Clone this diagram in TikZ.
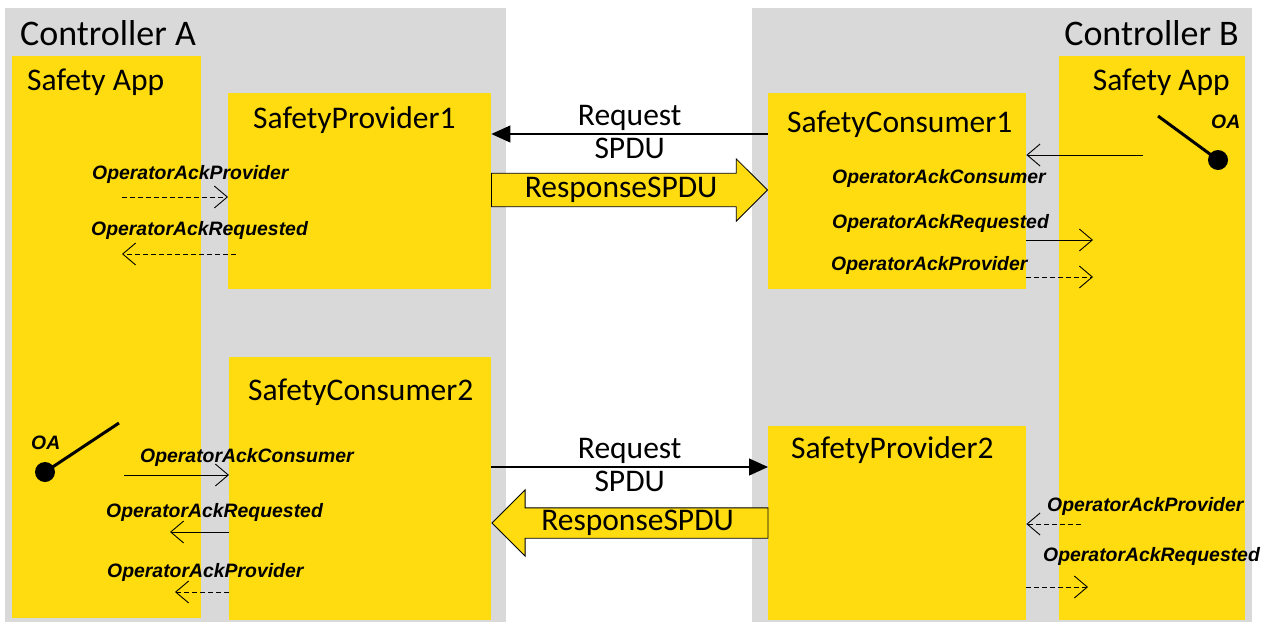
\documentclass[tikz,border=0pt]{standalone}
\usepackage{fontspec}
\setmainfont{Carlito}
\newfontfamily\labelfont{Liberation Sans}
\usetikzlibrary{arrows.meta,shapes.arrows}
\definecolor{safetyyellow}{RGB}{255,220,15}
\definecolor{ctrlgray}{RGB}{217,217,217}

\begin{document}
\begin{tikzpicture}[
    x=1pt, y=-1pt,
    area/.style={anchor=north west, inner sep=0},
    controller/.style={area, fill=ctrlgray},
    app/.style={area, fill=safetyyellow},
    component/.style={area, fill=safetyyellow},
    ctrltitle/.style={inner sep=0, font=\fontsize{36}{40}\selectfont},
    comptitle/.style={inner sep=0, anchor=base west, font=\fontsize{31.5}{36}\selectfont},
    signal/.style={inner sep=0, anchor=base west,
        font=\labelfont\bfseries\itshape\fontsize{19.4}{22}\selectfont},
    sig/.style={line width=0.9pt, -{Straight Barb[length=13pt,width=22pt]}},
    sigdash/.style={sig, dash pattern=on 5pt off 3pt},
    request/.style={line width=1.2pt, -{Triangle[length=19pt,width=17pt]}},
    reqlabel/.style={inner sep=3pt, font=\fontsize{31.5}{36}\selectfont},
    response/.style={single arrow, draw=black, line width=0.8pt, fill=safetyyellow,
        single arrow head indent=0pt, inner xsep=2pt,
        minimum height=276pt, font=\fontsize{31.5}{36}\selectfont},
    oadot/.style={circle, fill=black, inner sep=0, minimum size=20pt},
    switchbar/.style={line width=3pt},
]
\useasboundingbox (0,0) rectangle (1283,625);

%Controllers
\node[controller, minimum width=501pt, minimum height=614pt] (ctrlA) at (5,8) {};
\node[controller, minimum width=500pt, minimum height=614pt] (ctrlB) at (752,8) {};
\node[ctrltitle, anchor=base west] (ctrlAtitle) at (20,45) {Controller A};
\node[ctrltitle, anchor=base east] (ctrlBtitle) at (1239,45) {Controller B};

%Safety apps
\node[app, minimum width=189pt, minimum height=562pt] (appA) at (12,56) {};
\node[app, minimum width=186pt, minimum height=564pt] (appB) at (1059,56) {};
\node[comptitle] (appAtitle) at (27,90) {Safety App};
\node[comptitle, anchor=base east] (appBtitle) at (1230,90) {Safety App};

%Providers and consumers
\node[component, minimum width=263pt, minimum height=196pt] (sp1) at (228,93) {};
\node[component, minimum width=258pt, minimum height=196pt] (sc1) at (768,93) {};
\node[component, minimum width=262pt, minimum height=263pt] (sc2) at (229,357) {};
\node[component, minimum width=258pt, minimum height=194pt] (sp2) at (768,426) {};
\node[comptitle] (sp1title) at (253,128) {SafetyProvider1};
\node[comptitle] (sc1title) at (787,132) {SafetyConsumer1};
\node[comptitle] (sc2title) at (248,400) {SafetyConsumer2};
\node[comptitle] (sp2title) at (791,458) {SafetyProvider2};

%Top left signals
\node[signal] (sigA1) at (92,179) {OperatorAckProvider};
\node[signal] (sigA2) at (91,235) {OperatorAckRequested};
\coordinate (a1) at (122,197);
\coordinate (a2) at (122,254);
\coordinate (a2s) at (236,254);
\draw[sigdash] (a1) -- (a1 -| sp1.west);
\draw[sigdash] (a2s) -- (a2);

%Top right signals
\node[signal] (sigB1) at (832,183) {OperatorAckConsumer};
\node[signal] (sigB2) at (832,228) {OperatorAckRequested};
\node[signal] (sigB3) at (831,270) {OperatorAckProvider};
\node[signal] (oaBlabel) at (1211,128) {OA};
\node[oadot] (oaB) at (1218,160) {};
\coordinate (oaBend) at (1158,116);
\draw[switchbar] (oaB.center) -- (oaBend);
\coordinate (b1) at (1143,155);
\coordinate (b2) at (1093,240);
\coordinate (b3) at (1093,277);
\draw[sig] (b1) -- (b1 -| sc1.east);
\draw[sig] (b2 -| sc1.east) -- (b2);
\draw[sigdash] (b3 -| sc1.east) -- (b3);

%Bottom left signals
\node[signal] (oaAlabel) at (31,449) {OA};
\node[oadot] (oaA) at (45,472) {};
\coordinate (oaAend) at (119,423);
\draw[switchbar] (oaA.center) -- (oaAend);
\node[signal] (sigA3) at (140,462) {OperatorAckConsumer};
\node[signal] (sigA4) at (106,517) {OperatorAckRequested};
\node[signal] (sigA5) at (107,577) {OperatorAckProvider};
\coordinate (a3) at (124,475);
\coordinate (a4) at (170,532);
\coordinate (a5) at (175,592);
\draw[sig] (a3) -- (a3 -| sc2.west);
\draw[sig] (a4 -| sc2.west) -- (a4);
\draw[sigdash] (a5 -| sc2.west) -- (a5);

%Bottom right signals
\node[signal] (sigB4) at (1047,511) {OperatorAckProvider};
\node[signal] (sigB5) at (1043,561) {OperatorAckRequested};
\coordinate (b4) at (1081,524);
\coordinate (b5) at (1088,587);
\draw[sigdash] (b4) -- (b4 -| sp2.east);
\draw[sigdash] (b5 -| sp2.east) -- (b5);

%SPDU exchange
\coordinate (req1) at (0,134);
\coordinate (req2) at (0,467);
\draw[request] (req1 -| sc1.west) -- (req1 -| sp1.east)
    node[reqlabel, midway, above] {Request}
    node[reqlabel, midway, below] {SPDU};
\draw[request] (req2 -| sc2.east) -- (req2 -| sp2.west)
    node[reqlabel, midway, above] {Request}
    node[reqlabel, midway, below] {SPDU};
\coordinate (resp1) at (0,190);
\coordinate (resp2) at (0,523);
\node[response, anchor=tip, inner ysep=3.5pt, single arrow head extend=14.5pt]
    (resp1arrow) at (resp1 -| sc1.west) {ResponseSPDU};
\node[response, anchor=tip, shape border rotate=180, inner ysep=2pt,
    single arrow head extend=18pt]
    (resp2arrow) at (resp2 -| sc2.east) {ResponseSPDU};
\end{tikzpicture}
\end{document}
